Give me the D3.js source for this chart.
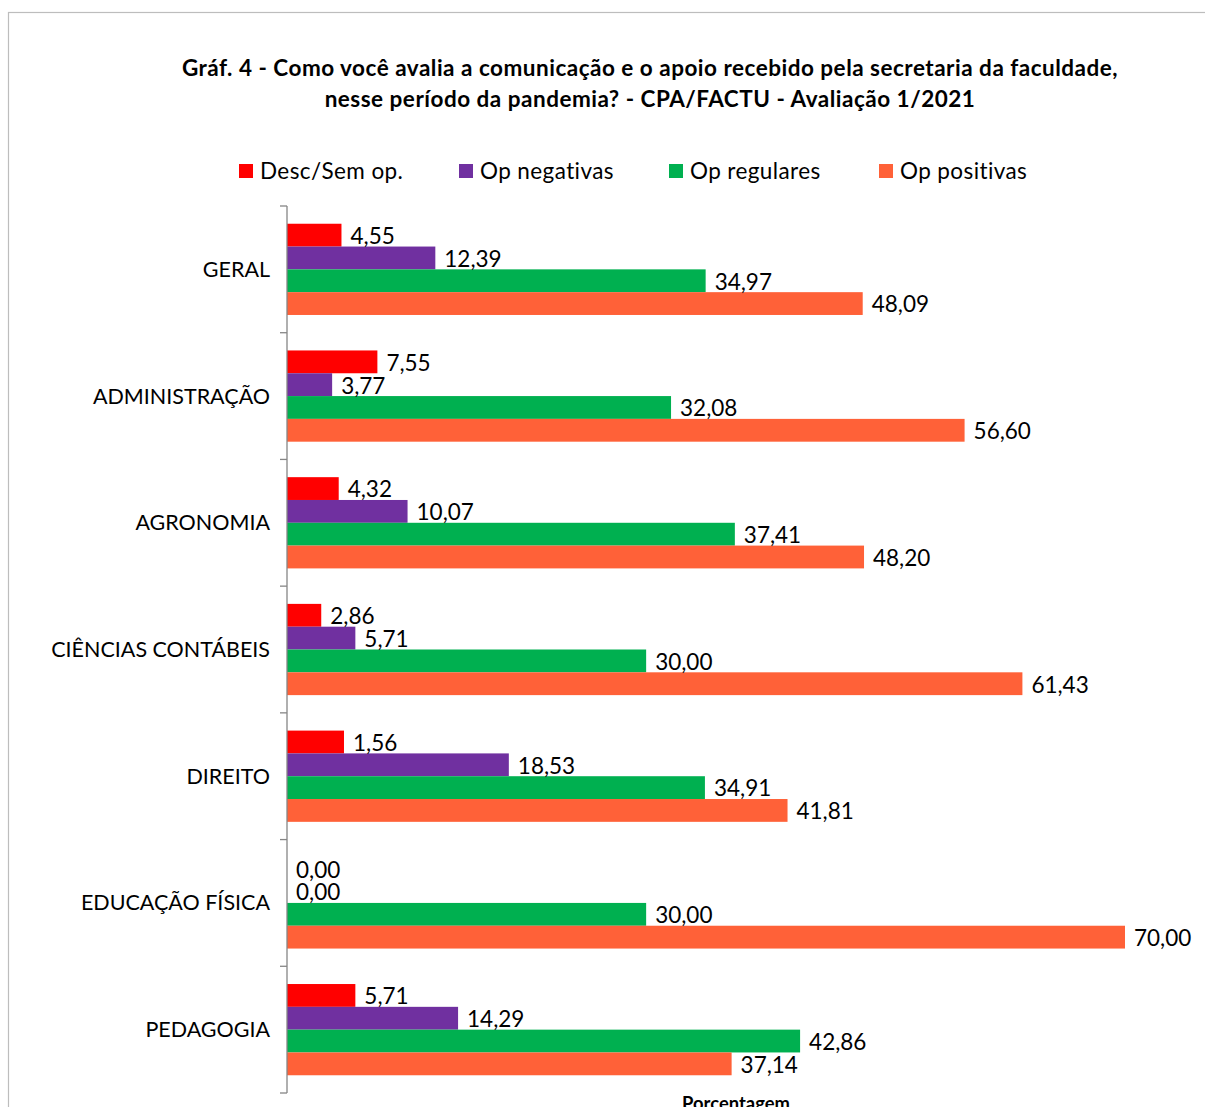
<!DOCTYPE html>
<html><head><meta charset="utf-8">
<script src="https://cdn.jsdelivr.net/npm/d3@7"></script>
<style>body{margin:0;background:#fff}svg{display:block}text{font-family:Lato,"Open Sans",sans-serif}</style>
</head><body>
<script>
const categories = ["GERAL","ADMINISTRAÇÃO","AGRONOMIA","CIÊNCIAS CONTÁBEIS","DIREITO","EDUCAÇÃO FÍSICA","PEDAGOGIA"];
const seriesNames = ["Desc/Sem op.","Op negativas","Op regulares","Op positivas"];
const seriesColors = ["#FF0000","#7030A0","#00B050","#FF6138"];
// bar lengths as drawn in the source (DIREITO red bar is drawn longer than its 1,56 label)
const descSemOp   = [4.55, 7.55, 4.32, 2.86, 4.76, 0.00, 5.71];
const descSemOpLabels = ["4,55","7,55","4,32","2,86","1,56","0,00","5,71"];
const opNegativas = [12.39, 3.77, 10.07, 5.71, 18.53, 0.00, 14.29];
const opRegulares = [34.97, 32.08, 37.41, 30.00, 34.91, 30.00, 42.86];
const opPositivas = [48.09, 56.60, 48.20, 61.43, 41.81, 70.00, 37.14];
const seriesValues = [descSemOp, opNegativas, opRegulares, opPositivas];
const titleLines = ["Gráf. 4 - Como você avalia a comunicação e o apoio recebido pela secretaria da faculdade,","nesse período da pandemia? - CPA/FACTU - Avaliação 1/2021"];
const xAxisTitle = "Porcentagem";

const W = 1205, H = 1107;
const svg = d3.select("body").append("svg").attr("width", W).attr("height", H);

// outer frame
svg.append("rect").attr("x", 8.5).attr("y", 12.5).attr("width", 1300).attr("height", 1200)
  .attr("fill", "none").attr("stroke", "#bdbdbd").attr("stroke-width", 1.2);

const x = d3.scaleLinear().domain([0, 70]).range([287, 1125]);
const y = d3.scaleBand().domain(categories).range([206, 1093]).paddingInner(0.28).paddingOuter(0.14);
const yi = d3.scaleBand().domain(d3.range(seriesNames.length)).range([0, y.bandwidth()]);

// title
svg.append("g").selectAll("text").data(titleLines).join("text")
  .attr("x", 650).attr("y", (d, i) => 76 + i * 31).attr("text-anchor", "middle")
  .attr("font-weight", "bold").attr("font-size", 22.5).attr("letter-spacing", 0.5).attr("fill", "#000").text(d => d);

// legend
const legendX = [239, 459, 669, 879];
const lg = svg.append("g").selectAll("g").data(seriesNames).join("g")
  .attr("transform", (d, i) => `translate(${legendX[i]},171)`);
lg.append("rect").attr("x", 0).attr("y", -7).attr("width", 14).attr("height", 14).attr("fill", (d, i) => seriesColors[i]);
lg.append("text").attr("x", 21).attr("y", 0).attr("dy", "0.35em").attr("font-size", 22.5).attr("letter-spacing", 0.4).attr("fill", "#000").text(d => d);

// bars
const fmt = v => d3.format(".2f")(v).replace(".", ",");
const rowData = ci => seriesValues.map((vals, si) => ({si, v: vals[ci], label: si === 0 ? descSemOpLabels[ci] : fmt(vals[ci])}));
const groups = svg.append("g").selectAll("g").data(categories).join("g")
  .attr("transform", d => `translate(0,${y(d)})`);
groups.selectAll("rect").data((c, ci) => rowData(ci)).join("rect")
  .attr("x", x(0)).attr("y", d => yi(d.si)).attr("width", d => x(d.v) - x(0)).attr("height", yi.bandwidth())
  .attr("fill", d => seriesColors[d.si]);
groups.selectAll("text.val").data((c, ci) => rowData(ci)).join("text")
  .attr("class", "val")
  .attr("x", d => x(d.v) + 9).attr("y", d => yi(d.si) + yi.bandwidth() / 2 + 1).attr("dy", "0.35em")
  .attr("font-size", 22.5).attr("fill", "#000")
  .text(d => d.label);

// y axis
const axis = svg.append("g").attr("transform", `translate(${x(0)},0)`);
const bounds = d3.range(categories.length + 1).map(i => 206 + i * (887 / categories.length));
axis.append("line").attr("x1", 0).attr("x2", 0).attr("y1", 206).attr("y2", 1093).attr("stroke", "#868686").attr("stroke-width", 1.3);
axis.selectAll("line.tk").data(bounds).join("line").attr("class", "tk")
  .attr("x1", -7).attr("x2", 0).attr("y1", d => d).attr("y2", d => d).attr("stroke", "#868686").attr("stroke-width", 1.3);
svg.append("g").selectAll("text").data(categories).join("text")
  .attr("x", 270).attr("y", d => y(d) + y.bandwidth() / 2).attr("dy", "0.35em").attr("text-anchor", "end")
  .attr("font-size", 21.5).attr("fill", "#000").text(d => d);

// x axis title
svg.append("text").attr("x", 736).attr("y", 1110).attr("text-anchor", "middle")
  .attr("font-weight", "bold").attr("font-size", 18.4).attr("fill", "#000").text(xAxisTitle);
</script>
</body></html>
